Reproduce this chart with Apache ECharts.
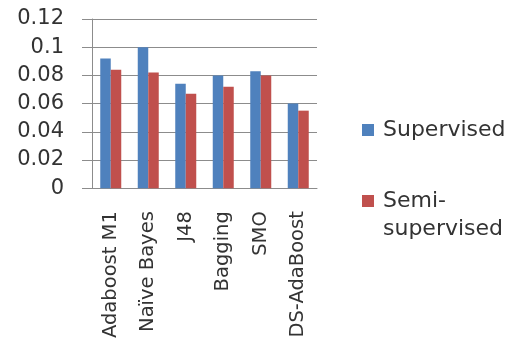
<!DOCTYPE html>
<html>
<head>
<meta charset="utf-8">
<script src="https://cdn.jsdelivr.net/npm/echarts@6/dist/echarts.min.js"></script>
<style>
  html, body { margin: 0; padding: 0; background: #fff; }
  #chart { width: 514px; height: 341px; }
</style>
</head>
<body>
<div id="chart"></div>
<script>
// Classifier names along the x axis
const categories = ['Adaboost M1', 'Naïve Bayes', 'J48', 'Bagging', 'SMO', 'DS-AdaBoost'];
// Error rates per classifier
const supervised = [0.092, 0.100, 0.074, 0.080, 0.083, 0.060];
const semiSupervised = [0.084, 0.082, 0.067, 0.072, 0.080, 0.055];
const seriesNames = ['Supervised', 'Semi-supervised'];

const FONT = '"DejaVu Sans", Verdana, sans-serif';
const TEXT = '#333333';
const GRID = '#8c8c8c';

const chart = echarts.init(document.getElementById('chart'), null, { renderer: 'canvas' });
chart.setOption({
  animation: false,
  textStyle: { fontFamily: FONT },
  grid: { left: 92, right: 197, top: 19, bottom: 152 },
  legend: {
    orient: 'vertical',
    left: 362,
    top: 116,
    padding: 0,
    itemWidth: 12,
    itemHeight: 12,
    itemGap: 15,
    icon: 'rect',
    textStyle: { fontSize: 22, color: TEXT, fontFamily: FONT, lineHeight: 28, padding: [0, 0, 0, 4] },
    // leading blank line keeps the swatch level with "Semi-"
    formatter: name => name === 'Semi-supervised' ? '\nSemi-\nsupervised' : name,
    data: seriesNames
  },
  xAxis: {
    type: 'category',
    data: categories,
    axisLine: { lineStyle: { color: GRID } },
    axisTick: { length: 6, lineStyle: { color: GRID } },
    axisLabel: { rotate: 90, margin: 23, fontSize: 19.5, color: TEXT, fontFamily: FONT, interval: 0 }
  },
  yAxis: {
    type: 'value',
    min: 0,
    max: 0.12,
    interval: 0.02,
    axisLine: { show: true, lineStyle: { color: GRID } },
    axisTick: { show: true, length: 10, lineStyle: { color: GRID } },
    splitLine: { lineStyle: { color: GRID } },
    axisLabel: { margin: 28, fontSize: 21, color: TEXT, fontFamily: FONT }
  },
  series: [
    { name: seriesNames[0], type: 'bar', data: supervised, barWidth: 10.5, barGap: '0%', itemStyle: { color: '#4F81BD' } },
    { name: seriesNames[1], type: 'bar', data: semiSupervised, barWidth: 10.5, barGap: '0%', itemStyle: { color: '#C0504D' } }
  ]
});
</script>
</body>
</html>
